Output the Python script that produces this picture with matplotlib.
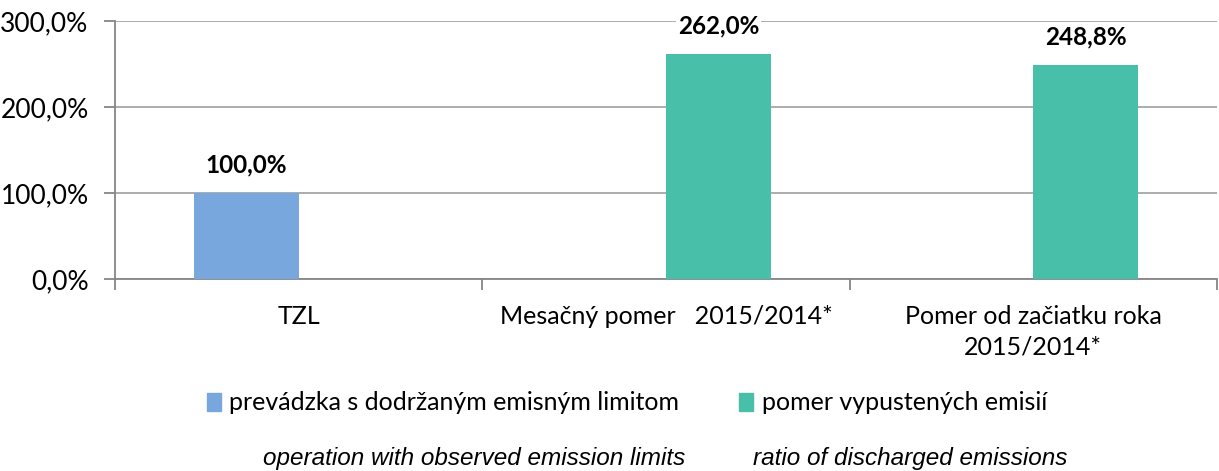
import numpy as np
import matplotlib
matplotlib.use('Agg')
import matplotlib.pyplot as plt
from matplotlib.patches import Patch
from matplotlib.ticker import FuncFormatter

categories = ['TZL', 'Mesačný pomer   2015/2014*', 'Pomer od začiatku roka\n2015/2014*']
limit_values = [100.0, np.nan, np.nan]
ratio_values = [np.nan, 262.0, 248.8]
series_names = ['prevádzka s dodržaným emisným limitom', 'pomer vypustených emisií']
series_names_en = ['operation with observed emission limits', 'ratio of discharged emissions']

blue = '#77A7DC'
green = '#48BFA8'
grid_gray = '#A6A6A6'
axis_gray = '#868686'

plt.rcParams['font.family'] = ['Lato', 'DejaVu Sans']

fig = plt.figure(figsize=(12.19, 4.71), dpi=100)
ax = fig.add_axes([115 / 1219, 1 - 279 / 471, 1102 / 1219, 258 / 471])

x = np.arange(len(categories))
width = 0.286
ax.bar(x - width / 2, limit_values, width, color=blue, zorder=3)
ax.bar(x + width / 2, ratio_values, width, color=green, zorder=3)

# value labels above bars, white box cuts the gridline like excel does
for xs, vals in ((x - width / 2, limit_values), (x + width / 2, ratio_values)):
    for xi, v in zip(xs, vals):
        if np.isnan(v):
            continue
        ax.annotate(f'{v:.1f}%'.replace('.', ','), (xi, v), xytext=(0, 12),
                    textcoords='offset points', ha='center', va='bottom',
                    fontsize=17.5, fontweight='bold', zorder=5,
                    bbox=dict(facecolor='white', edgecolor='none', pad=1))

ax.set_xlim(-0.5, len(categories) - 0.5)
ax.set_ylim(0, 300)
ax.set_yticks([0, 100, 200, 300])
ax.yaxis.set_major_formatter(FuncFormatter(lambda v, p: f'{v:.1f}%'.replace('.', ',')))
ax.grid(axis='y', color=grid_gray, linewidth=1.3, zorder=0)

ax.set_xticks(np.arange(len(categories) + 1) - 0.5)
ax.set_xticklabels([])
ax.set_xticks(x, minor=True)
ax.set_xticklabels(categories, minor=True, fontsize=18, linespacing=1.4)
ax.tick_params(axis='x', which='minor', length=0, pad=19)
ax.tick_params(axis='x', which='major', length=8, width=1.3, color=axis_gray)
ax.tick_params(axis='y', length=8, width=1.3, color=axis_gray, labelsize=19, pad=11)

for side in ('top', 'right'):
    ax.spines[side].set_visible(False)
for side in ('left', 'bottom'):
    ax.spines[side].set_color(axis_gray)
    ax.spines[side].set_linewidth(1.3)

handles = [Patch(color=blue), Patch(color=green)]
fig.legend(handles, series_names, loc='center', bbox_to_anchor=(627 / 1219, 1 - 403 / 471),
           ncol=2, frameon=False, fontsize=18, handlelength=0.55, handleheight=0.7,
           handletextpad=0.35, columnspacing=2.4)

fig.text(263 / 1219, 1 - 458 / 471, series_names_en[0], fontsize=17.5, style='italic',
         family='Liberation Sans', va='center', ha='left')
fig.text(753 / 1219, 1 - 458 / 471, series_names_en[1], fontsize=17.5, style='italic',
         family='Liberation Sans', va='center', ha='left')

fig.savefig('out.png', dpi=100)
